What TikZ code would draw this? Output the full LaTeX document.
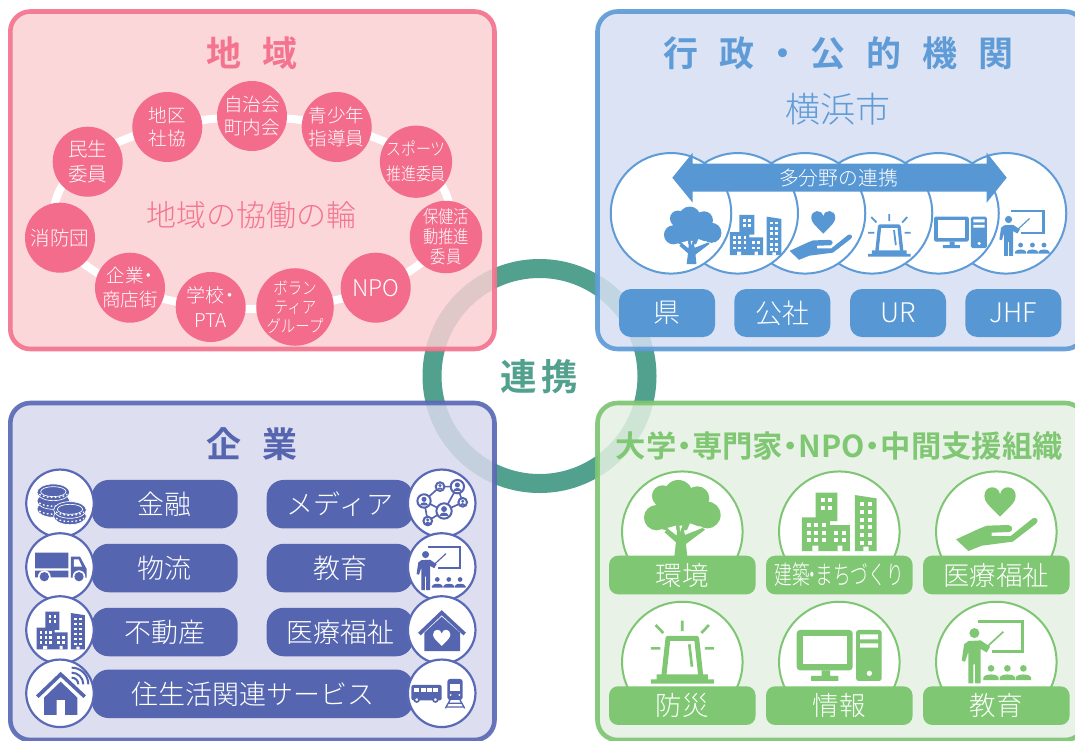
\documentclass[tikz,border=0pt]{standalone}
\usepackage{fontspec}
\newfontfamily\jpl{Noto Sans CJK JP Light}
\newfontfamily\jpn[FakeStretch=0.85]{Noto Sans CJK JP Light}
\newfontfamily\jpc[FakeStretch=0.68]{Noto Sans CJK JP Light}
\newfontfamily\jpb{Noto Sans CJK JP Bold}
\newcommand\szl[2]{\fontsize{#1}{#2}\selectfont}
\newcommand\nd{\kern-.24em・\kern-.24em}
\definecolor{ringc}{HTML}{52A08E}
\definecolor{pinkc}{HTML}{F36C8C}
\definecolor{pinkb}{HTML}{F4748F}
\definecolor{pinkf}{HTML}{FBD0D3}
\definecolor{bluec}{HTML}{5797D4}
\definecolor{blueb}{HTML}{5F9BD6}
\definecolor{bluef}{HTML}{D5DFF3}
\definecolor{indc}{HTML}{5565AF}
\definecolor{indb}{HTML}{5A69B5}
\definecolor{indf}{HTML}{D8D9ED}
\definecolor{grnc}{HTML}{7FC772}
\definecolor{grnb}{HTML}{7EC673}
\definecolor{grnf}{HTML}{E4F0E2}
\newcommand\iconat[5]{\begin{scope}[shift={(#1,#2)},scale=#3]\colorlet{ic}{#4}\def\ilw{#3}#5\end{scope}}
\newcommand\icheart{(0,45) .. controls (-35,10) and (-47,0) .. (-47,-17) .. controls (-47,-50) and (-5,-52) .. (0,-22) .. controls (5,-52) and (47,-50) .. (47,-17) .. controls (47,0) and (35,10) .. (0,45) -- cycle}
\newcommand\ictree{\begin{scope}[shift={(-277,-370)}]
\fill[ic] (265,298) circle (43) (218,303) circle (32) (200,368) circle (38) (322,310) circle (36) (352,360) circle (40) (275,345) circle (62) (230,360) circle (45) (320,350) circle (45);
\fill[white] (232,399)--(258,392)--(260,422)--cycle (268,392)--(278,392)--(270,412)--cycle (285,420)--(300,385)--(338,399)--cycle;
\fill[ic] (253,485)--(258,442)--(224,412)--(232,400)--(260,422)--(262,392)--(268,392)--(270,412)--(278,392)--(285,420)--(338,399)--(345,404)--(288,447)--(292,485)--cycle;
\end{scope}}
\newcommand\icbld{\begin{scope}[shift={(-748,-380)}]
\fill[ic] (677,293) rectangle (742,378) (636,367) rectangle (720,468) (720,390) rectangle (780,468);
\fill[ic] (795,300)--(860,310)--(860,468)--(795,468)--cycle;
\foreach \wx in {693,715}\foreach \wy in {310,333}{\fill[white] (\wx,\wy) rectangle ++(12,12);}
\foreach \wx in {651,673,695}\foreach \wy in {385,408,430}{\fill[white] (\wx,\wy) rectangle ++(12,12);}
\foreach \wx in {733,755}\foreach \wy in {408,430}{\fill[white] (\wx,\wy) rectangle ++(12,12);}
\foreach \wx in {811,833}\foreach \wy in {322,345,368,391,414,437}{\fill[white] (\wx,\wy) rectangle ++(12,12);}
\fill[white] (667,452) rectangle (685,468) (743,452) rectangle (757,468) (820,455) rectangle (836,468);
\end{scope}}
\newcommand\ichand{\begin{scope}[shift={(-1220,-372)}]
\begin{scope}[shift={(1230,320)}]\fill[ic] \icheart;\end{scope}
\fill[ic] (1098,433)--(1165,402)--(1190,392)--(1255,390) .. controls (1270,392) and (1270,408) .. (1258,411)--(1205,413)--(1205,423)--(1262,423)--(1328,370) .. controls (1340,364) and (1348,378) .. (1338,386)--(1268,440)--(1175,452)--(1135,468)--cycle;
\end{scope}}
\newcommand\icbeacon{\begin{scope}[shift={(-277,-771)}]
\begin{scope}[ic,line width=8*\ilw pt]
\draw (277,677)--(277,708) (197,690)--(220,714) (357,690)--(334,714) (183,760)--(211,760) (345,760)--(372,760);
\end{scope}
\draw[ic,line width=15*\ilw pt,line join=round] (222,840)--(234,730)--(320,730)--(332,840);
\draw[ic,line width=8*\ilw pt] (298,748)--(306,815);
\fill[ic] (200,838) rectangle (354,853) (183,853) rectangle (372,866);
\end{scope}}
\newcommand\icpc{\begin{scope}[shift={(-747,-781)}]
\fill[ic,rounded corners=10*\ilw pt] (620,705) rectangle (788,826);
\fill[white] (638,722) rectangle (772,808);
\fill[ic] (695,826) rectangle (720,845) (663,843) rectangle (745,858);
\fill[ic,rounded corners=8*\ilw pt] (798,705) rectangle (875,858);
\fill[white] (810,718) rectangle (864,733) (810,745) rectangle (864,758);
\fill[white] (838,835) circle (8);
\end{scope}}
\newcommand\icteach{\begin{scope}[shift={(-1220,-770)}]
\draw[ic,line width=9*\ilw pt] (1165,680)--(1298,680)--(1298,770)--(1205,770);
\draw[ic,line width=5*\ilw pt] (1240,710)--(1190,756);
\fill[ic] (1153,714) circle (15);
\fill[ic] (1115,797)--(1122,748)--(1135,738)--(1172,736)--(1200,755)--(1190,772)--(1172,762)--(1172,865)--(1155,865)--(1155,808)--(1150,808)--(1150,865)--(1135,865)--(1135,770)--(1125,800)--cycle;
\foreach \sx in {1203,1252,1300}{\fill[ic] (\sx,820) circle (10);
\fill[ic] (\sx-23,855)--(\sx-23,848) .. controls (\sx-20,835) and (\sx+20,835) .. (\sx+23,848)--(\sx+23,855)--cycle;}
\end{scope}}
\newcommand\oncoin[2]{\filldraw[fill=ic,draw=white,line width=2*\ilw pt] (#1,#2) ellipse (49 and 25);
\draw[white,line width=4*\ilw pt,dash pattern=on 5*\ilw pt off 7*\ilw pt] (#1-42,#2+6) .. controls (#1-25,#2+19) and (#1+25,#2+19) .. (#1+42,#2+6);}
\newcommand\iccoins{\begin{scope}[shift={(-180,-325)}]
\oncoin{160}{342}\oncoin{160}{318}\oncoin{160}{292}
\draw[white,line width=2*\ilw pt] (160,290) ellipse (38 and 15);
\oncoin{210}{364}\oncoin{210}{345}
\draw[white,line width=2*\ilw pt] (210,343) ellipse (38 and 15);
\end{scope}}
\newcommand\ictruck{\begin{scope}[shift={(-180,-516)}]
\fill[ic] (105,473) rectangle (205,520) (105,527) rectangle (205,547);
\fill[ic] (213,485)--(240,485)--(260,522)--(260,548)--(213,548)--cycle;
\fill[white] (222,493)--(236,493)--(246,515)--(222,515)--cycle;
\fill[white] (133,545) circle (19) (237,545) circle (19);
\fill[ic] (133,545) circle (14) (237,545) circle (14);
\end{scope}}
\newcommand\icwifi{\begin{scope}[shift={(-180,-895)}]
\draw[ic,line width=11*\ilw pt,line join=miter] (112,905)--(182,838)--(254,905);
\fill[ic] (132,908)--(182,860)--(232,908)--(232,960)--(195,960)--(195,915)--(170,915)--(170,960)--(132,960)--cycle;
\draw[ic,line width=6*\ilw pt] (215,848) arc (-90:0:20);
\draw[ic,line width=6*\ilw pt] (215,833) arc (-90:0:35);
\draw[ic,line width=6*\ilw pt] (215,818) arc (-90:0:50);
\end{scope}}
\newcommand\onperson[3]{\filldraw[fill=white,draw=ic,line width=6*\ilw pt] (#1,#2) circle (#3);
\fill[ic] (#1,#2-#3*0.25) circle (#3*0.38);
\fill[ic] (#1-#3*0.62,#2+#3*0.65) .. controls (#1-#3*0.5,#2+#3*0.05) and (#1+#3*0.5,#2+#3*0.05) .. (#1+#3*0.62,#2+#3*0.65)--cycle;}
\newcommand\icnet{\begin{scope}[shift={(-1325,-325)}]
\draw[ic,line width=5*\ilw pt] (1272,318)--(1320,275)--(1372,275)--(1388,322)--(1332,348)--(1272,318)--(1283,378)--(1332,348)--(1372,275);
\onperson{1320}{275}{13}\onperson{1372}{275}{20}\onperson{1272}{318}{20}\onperson{1388}{322}{13}\onperson{1332}{348}{23}\onperson{1283}{378}{13}
\end{scope}}
\newcommand\ichome{\begin{scope}[shift={(-1325,-705)}]
\draw[ic,line width=11*\ilw pt] (1258,717)--(1325,653)--(1394,717);
\fill[ic] (1273,713)--(1325,665)--(1380,713)--(1380,768)--(1273,768)--cycle;
\begin{scope}[shift={(1325,728)},scale=0.55]
\fill[white] \icheart;
\end{scope}
\end{scope}}
\newcommand\icbus{\begin{scope}[shift={(-1325,-895)}]
\fill[ic,rounded corners=6*\ilw pt] (1234,870) rectangle (1325,916);
\foreach \bx in {1243,1262,1281,1300}{\fill[white] (\bx,878) rectangle ++(15,13);}
\filldraw[fill=white,draw=ic,line width=5*\ilw pt] (1250,914) circle (7) (1306,914) circle (7);
\fill[ic,rounded corners=8*\ilw pt] (1342,852) rectangle (1388,915);
\fill[white] (1350,866) rectangle (1380,888);
\fill[white] (1352,900) circle (3) (1378,900) circle (3);
\draw[ic,line width=4*\ilw pt] (1350,915)--(1336,940) (1380,915)--(1394,940) (1344,925)--(1386,925) (1338,936)--(1392,936);
\end{scope}}
\tikzset{
 panel/.style={line width=4.6pt,rounded corners=20pt,fill opacity=.85,draw opacity=.92},
 ptitle/.style={font={\jpb\szl{35}{35}},inner sep=0pt},
 pbub/.style={circle,fill=pinkc,text=white,minimum size=70pt,inner sep=0pt,align=center,font={\jpl\szl{18.5}{23.5}}},
 bcirc/.style={circle,draw=blueb,line width=2pt,fill=white,minimum size=120.5pt,inner sep=0pt},
 bbtn/.style={fill=bluec,text=white,rounded corners=12pt,minimum width=96pt,minimum height=48pt,inner sep=0pt,font={\jpl\szl{27}{27}}},
 ipill/.style={fill=indc,text=white,rounded corners=17pt,minimum height=48.5pt,inner sep=0pt,font={\jpl\szl{27}{27}}},
 icirc/.style={circle,draw=indb,line width=2.2pt,fill=white,minimum size=67.5pt,inner sep=0pt},
 gcirc/.style={circle,draw=grnb,line width=2pt,fill=white,minimum size=120.5pt,inner sep=0pt},
 gbtn/.style={fill=grnc,text=white,rounded corners=9pt,minimum width=146.5pt,minimum height=38.6pt,inner sep=0pt,font={\jpl\szl{26.5}{26.5}}},
}
\begin{document}
\begin{tikzpicture}[x=1pt,y=-1pt]
\clip (0,0) rectangle (1075,740);
\fill[white] (0,0) rectangle (1075,740);
% central ring
\draw[ringc,line width=19pt] (539.5,376) circle (107.5);
% panels
\draw[panel,draw=pinkb,fill=pinkf] (10.3,11.5) rectangle (494.5,349);
\draw[panel,draw=blueb,fill=bluef] (597.5,11.5) rectangle (1085,349);
\draw[panel,draw=indb,fill=indf] (10.3,403) rectangle (494.5,740);
\draw[panel,draw=grnb,fill=grnf] (597.5,403) rectangle (1085,740);
\node[text=ringc,font={\jpb\szl{36.5}{36.5}},inner sep=0pt] (renkei) at (539.5,377) {\spaceskip=5pt 連 携};
% ---------- chiiki
\node[ptitle,text=pinkb] (tchiiki) at (252,53) {\spaceskip=21pt 地 域};
\draw[white,line width=8pt] (252,213) ellipse (198 and 96);
\node[text=pinkb,font={\jpl\szl{30}{30}},inner sep=0pt] (wa) at (251.5,215) {地域の協働の輪};
\node[pbub] (p1) at (252,116) {自治会\\町内会};
\node[pbub] (p2) at (167.3,127) {地区\\社協};
\node[pbub] (p3) at (336.7,127) {青少年\\指導員};
\node[pbub,font={\jpl\szl{19.5}{25}}] (p4) at (87.7,161.7) {民生\\委員};
\node[pbub,font={\jpn\szl{17.5}{25}}] (p5) at (416,161.7) {スポーツ\\推進委員};
\node[pbub,font={\jpl\szl{19.5}{23}}] (p6) at (60,237.7) {消防団};
\node[pbub,font={\jpn\szl{18}{20}}] (p7) at (446,237) {保健活\\動推進\\委員};
\node[pbub] (p8) at (130,287.7) {企業\nd\\商店街};
\node[pbub,font={\jpl\szl{23}{23}}] (p9) at (375.7,287.7) {NPO};
\node[pbub,font={\jpl\szl{19}{25}}] (p10) at (210.7,307) {学校\nd\\PTA};
\node[pbub,font={\jpn\szl{17}{19}}] (p11) at (295,307) {ボラン\\ティア\\グループ};
% ---------- gyosei
\node[ptitle,text=blueb] (tgyosei) at (838.5,53) {\spaceskip=21pt 行 政{\spaceskip=11pt{} ・ }公 的 機 関};
\node[text=blueb,font={\jpl\szl{35}{35}},inner sep=0pt] (yoko) at (838,109) {横浜市};
\node[bcirc] (b6) at (1006,213.3) {};
\node[bcirc] (b5) at (938.5,213.3) {};
\node[bcirc] (b4) at (872,213.3) {};
\node[bcirc] (b3) at (805,213.3) {};
\node[bcirc] (b2) at (737.7,213.3) {};
\node[bcirc] (b1) at (671,213.3) {};
\iconat{692.7}{235.3}{0.25}{bluec}{\ictree}
\iconat{755.7}{235}{0.23}{bluec}{\icbld}
\iconat{820.7}{235.3}{0.255}{bluec}{\ichand}
\iconat{889.3}{235.3}{0.225}{bluec}{\icbeacon}
\iconat{960.3}{232.3}{0.207}{bluec}{\icpc}
\iconat{1024.7}{233}{0.2413}{bluec}{\icteach}
\fill[bluec] (672.3,177.7)--(692.7,152.7)--(692.7,163.7)--(986.7,163.7)--(986.7,152.7)--(1006.7,177.7)--(986.7,202.7)--(986.7,191.7)--(692.7,191.7)--(692.7,202.7)--cycle;
\node[text=white,font={\jpl\szl{19.8}{19.8}},inner sep=0pt] (tamoku) at (838.5,177.7) {多分野の連携};
\node[bbtn] (k1) at (667,313) {県};
\node[bbtn] (k2) at (782.3,313) {公社};
\node[bbtn] (k3) at (898,313) {UR};
\node[bbtn] (k4) at (1013.3,313) {JHF};
% ---------- kigyo
\node[ptitle,text=indc] (tkigyo) at (252,444) {\spaceskip=21pt 企 業};
\node[ipill,minimum width=146pt] (i1) at (164.7,504.2) {金融};
\node[ipill,minimum width=146pt] (i2) at (164.7,568) {物流};
\node[ipill,minimum width=146pt] (i3) at (164.7,632) {不動産};
\node[ipill,minimum width=146.6pt] (i4) at (340,504.2) {メディア};
\node[ipill,minimum width=146.6pt] (i5) at (340,568) {教育};
\node[ipill,minimum width=146.6pt] (i6) at (340,632) {医療福祉};
\node[ipill,minimum width=321.6pt] (i7) at (252.5,693.8) {住生活関連サービス};
\node[icirc] (c1) at (60,503.3) {};
\node[icirc] (c2) at (60,567) {};
\node[icirc] (c3) at (60,630) {};
\node[icirc] (c4) at (60,693.3) {};
\node[icirc] (d1) at (441.7,503.3) {};
\node[icirc] (d2) at (441.7,567) {};
\node[icirc] (d3) at (441.7,630) {};
\node[icirc] (d4) at (441.7,693.3) {};
\iconat{60}{503.3}{0.3333}{indc}{\iccoins}
\iconat{60}{567}{0.3333}{indc}{\ictruck}
\iconat{60.7}{630.3}{0.216}{indc}{\icbld}
\iconat{60}{693.3}{0.3333}{indc}{\icwifi}
\iconat{441.7}{503.3}{0.3333}{indc}{\icnet}
\iconat{441.3}{567.7}{0.235}{indc}{\icteach}
\iconat{441.7}{630}{0.3333}{indc}{\ichome}
\iconat{441.7}{693.3}{0.3333}{indc}{\icbus}
% ---------- daigaku
\node[text=grnc,font={\jpb\szl{30.3}{30.3}},inner sep=0pt] (tdai) at (839.2,446) {大学\nd 専門家\nd NPO\nd 中間支援組織};
\node[gcirc] (g1) at (682.3,531.7) {};
\node[gcirc] (g2) at (839.3,531.7) {};
\node[gcirc] (g3) at (996.3,531.7) {};
\node[gcirc] (g4) at (682.3,662) {};
\node[gcirc] (g5) at (839.3,662) {};
\node[gcirc] (g6) at (996.3,662) {};
\iconat{682.3}{518.3}{0.3333}{grnc}{\ictree}
\iconat{839.3}{521.7}{0.3333}{grnc}{\icbld}
\iconat{996.7}{519}{0.3333}{grnc}{\ichand}
\iconat{682.3}{652}{0.3333}{grnc}{\icbeacon}
\iconat{839}{655.3}{0.3333}{grnc}{\icpc}
\iconat{996.7}{651.7}{0.3333}{grnc}{\icteach}
\node[gbtn] (h1) at (682.3,575) {環境};
\node[gbtn,font={\jpc\szl{26}{26}}] (h2) at (839.3,575) {建築\nd まちづくり};
\node[gbtn] (h3) at (996.3,575) {医療福祉};
\node[gbtn] (h4) at (682.3,705.6) {防災};
\node[gbtn] (h5) at (839.3,705.6) {情報};
\node[gbtn] (h6) at (996.3,705.6) {教育};
\end{tikzpicture}
\end{document}
